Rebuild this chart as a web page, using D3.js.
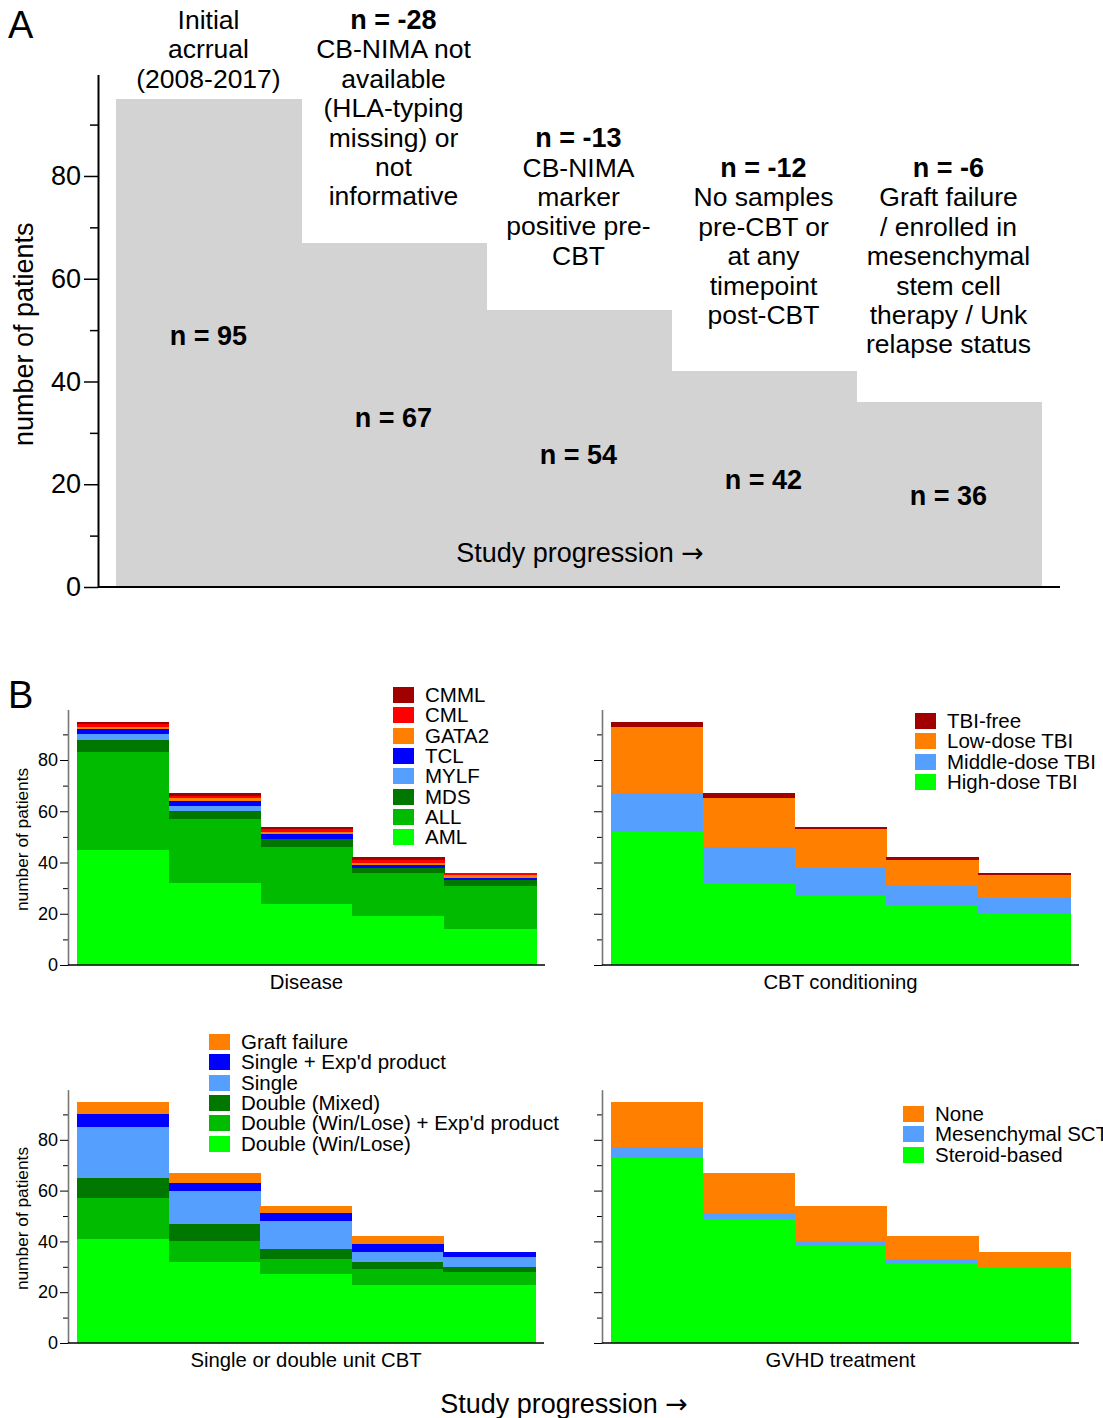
<!DOCTYPE html>
<html>
<head>
<meta charset="utf-8">
<script src="https://cdn.jsdelivr.net/npm/d3@7"></script>
<style>
  body { margin: 0; background: #fff; }
  text { font-family: "Liberation Sans", Arial, sans-serif; fill: #000; }
  rect { shape-rendering: crispEdges; }
  .arrow { font-family: "DejaVu Sans", sans-serif; }
</style>
</head>
<body>
<svg id="canvas" width="1103" height="1418"></svg>
<script>
// ---- data ----
var stages = ['s1', 's2', 's3', 's4', 's5'];

// panel A
var stageCounts = [95, 67, 54, 42, 36];
var stageDrops = [null, -28, -13, -12, -6];
var stageNotes = [
  ['Initial', 'acrrual', '(2008-2017)'],
  ['CB-NIMA not', 'available', '(HLA-typing', 'missing) or', 'not', 'informative'],
  ['CB-NIMA', 'marker', 'positive pre-', 'CBT'],
  ['No samples', 'pre-CBT or', 'at any', 'timepoint', 'post-CBT'],
  ['Graft failure', '/ enrolled in', 'mesenchymal', 'stem cell', 'therapy / Unk', 'relapse status']
];
var noteTop = [110.4, 110.4, 87.4, 81.6, 81.6];     // first note line, in patients
var countLabelAt = [49, 33, 25.7, 21, 17.8];        // "n = .." label, in patients

// panel B: disease
var diseaseKeys = ['AML', 'ALL', 'MDS', 'MYLF', 'TCL', 'GATA2', 'CML', 'CMML'];
var aml   = [45, 32, 24, 19, 14];
var all   = [38, 25, 22, 17, 17];
var mds   = [5, 3, 3, 2, 2];
var mylf  = [2, 2, 0, 0, 0];
var tcl   = [2, 2, 2, 1, 1];
var gata2 = [1, 1, 1, 1, 1];
var cml   = [1, 1, 1, 1, 1];
var cmml  = [1, 1, 1, 1, 0];
var diseaseColors = ['#00ff00', '#00bb00', '#007800', '#55a0ff', '#0000ff', '#ff8000', '#ff0000', '#a00000'];

// panel B: CBT conditioning
var condKeys = ['High-dose TBI', 'Middle-dose TBI', 'Low-dose TBI', 'TBI-free'];
var highTbi = [52, 32, 27, 23, 20];
var midTbi  = [15, 14, 11, 8, 6];
var lowTbi  = [26, 19, 15, 10, 9];
var freeTbi = [2, 2, 1, 1, 1];
var condColors = ['#00ff00', '#55a0ff', '#ff8000', '#a00000'];

// panel B: single or double unit
var unitKeys = ['Double (Win/Lose)', 'Double (Win/Lose) + Exp\'d product', 'Double (Mixed)', 'Single', 'Single + Exp\'d product', 'Graft failure'];
var dblWin    = [41, 32, 27, 23, 23];
var dblWinExp = [16, 8, 6, 6, 5];
var dblMixed  = [8, 7, 4, 3, 2];
var single    = [20, 13, 11, 4, 4];
var singleExp = [5, 3, 3, 3, 2];
var graftFail = [5, 4, 3, 3, 0];
var unitColors = ['#00ff00', '#00bb00', '#007800', '#55a0ff', '#0000ff', '#ff8000'];

// panel B: GVHD treatment
var gvhdKeys = ['Steroid-based', 'Mesenchymal SCT', 'None'];
var steroid = [73, 49, 38, 31, 30];
var mscT    = [4, 2, 2, 2, 0];
var noneT   = [18, 16, 14, 9, 6];
var gvhdColors = ['#00ff00', '#55a0ff', '#ff8000'];

var yTicks = [0, 20, 40, 60, 80];
var yMinor = [10, 30, 50, 70, 90];
var yMax = 99.75;

var svg = d3.select('#canvas');

function progressLabel(sel) {
  sel.append('tspan').text('Study progression ');
  sel.append('tspan').attr('class', 'arrow').text('\u2192');
}

// ---- panel A ----
(function () {
  var x = d3.scaleBand().domain(stages).range([116, 1041]).padding(0);
  var y = d3.scaleLinear().domain([0, yMax]).range([587, 74.5]);
  var g = svg.append('g');

  g.selectAll('rect.stage')
    .data(stageCounts)
    .enter().append('rect')
    .attr('class', 'stage')
    .attr('x', function (d, i) { return x(stages[i]); })
    .attr('width', x.bandwidth() + 0.5)
    .attr('y', function (d) { return y(d); })
    .attr('height', function (d) { return y(0) - y(d); })
    .attr('fill', '#d3d3d3');

  g.append('g')
    .attr('transform', 'translate(98,0)')
    .call(d3.axisLeft(y).tickValues(yMinor).tickSize(8).tickFormat(''))
    .call(function (a) { a.select('.domain').remove(); a.selectAll('line').attr('stroke-width', 1.5); });
  g.append('g')
    .attr('transform', 'translate(98,0)')
    .call(d3.axisLeft(y).tickValues(yTicks).tickSizeInner(14).tickSizeOuter(0).tickPadding(3))
    .call(function (a) {
      a.select('.domain').attr('stroke-width', 2);
      a.selectAll('line').attr('stroke-width', 1.5);
      a.selectAll('text').style('font-size', '27px').attr('font-family', null);
    });
  g.append('line')
    .attr('x1', 98).attr('x2', 1060)
    .attr('y1', y(0)).attr('y2', y(0))
    .attr('stroke', '#000').attr('stroke-width', 2);

  g.append('text')
    .attr('transform', 'translate(33,' + y(49.2) + ') rotate(-90)')
    .attr('text-anchor', 'middle')
    .style('font-size', '27px')
    .text('number of patients');

  // n labels
  g.selectAll('text.count')
    .data(stageCounts)
    .enter().append('text')
    .attr('class', 'count')
    .attr('x', function (d, i) { return x(stages[i]) + x.bandwidth() / 2; })
    .attr('y', function (d, i) { return y(countLabelAt[i]); })
    .attr('dy', '0.35em')
    .attr('text-anchor', 'middle')
    .style('font-size', '27px')
    .style('font-weight', 'bold')
    .text(function (d) { return 'n = ' + d; });

  // notes above bars
  stageNotes.forEach(function (lines, i) {
    var cx = x(stages[i]) + x.bandwidth() / 2;
    var all = stageDrops[i] === null ? lines : ['n = ' + stageDrops[i]].concat(lines);
    var t = g.append('text')
      .attr('text-anchor', 'middle')
      .style('font-size', '26.5px');
    all.forEach(function (s, k) {
      t.append('tspan')
        .attr('x', cx)
        .attr('y', y(noteTop[i]) + k * 29.4)
        .attr('dy', '0.35em')
        .style('font-weight', (stageDrops[i] !== null && k === 0) ? 'bold' : null)
        .style('font-size', (stageDrops[i] !== null && k === 0) ? '27px' : null)
        .text(s);
    });
  });

  g.append('text')
    .attr('x', 580).attr('y', 553).attr('dy', '0.35em')
    .attr('text-anchor', 'middle')
    .style('font-size', '27px')
    .call(progressLabel);

  svg.append('text').attr('x', 8).attr('y', 38).style('font-size', '38px').text('A');
})();

// ---- panel B ----
svg.append('text').attr('x', 8).attr('y', 708).style('font-size', '38px').text('B');

function drawStack(cfg) {
  var x = d3.scaleBand().domain(stages).range([cfg.left, cfg.right]).padding(0);
  var y = d3.scaleLinear().domain([0, yMax]).range([cfg.base, cfg.base - yMax * cfg.k]);
  var rows = stages.map(function (s, i) {
    var r = { stage: s };
    cfg.keys.forEach(function (key, j) { r[key] = cfg.series[j][i]; });
    return r;
  });
  var stacked = d3.stack().keys(cfg.keys)(rows);
  var g = svg.append('g');

  g.selectAll('g.layer')
    .data(stacked)
    .enter().append('g')
    .attr('class', 'layer')
    .attr('fill', function (d, j) { return cfg.colors[j]; })
    .selectAll('rect')
    .data(function (d) { return d; })
    .enter().append('rect')
    .attr('x', function (d) { return x(d.data.stage); })
    .attr('width', x.bandwidth() + 0.5)
    .attr('y', function (d) { return y(d[1]); })
    .attr('height', function (d) { return y(d[0]) - y(d[1]); });

  var ax = cfg.left - 9;
  g.append('g')
    .attr('transform', 'translate(' + ax + ',0)')
    .call(d3.axisLeft(y).tickValues(yMinor).tickSize(5).tickFormat(''))
    .call(function (a) { a.select('.domain').remove(); });
  g.append('g')
    .attr('transform', 'translate(' + ax + ',0)')
    .call(d3.axisLeft(y).tickValues(yTicks).tickSizeInner(8).tickSizeOuter(0).tickPadding(2)
      .tickFormat(cfg.labels ? d3.format('d') : ''))
    .call(function (a) {
      a.select('.domain').attr('stroke', '#777').attr('stroke-width', 1.6);
      a.selectAll('text').style('font-size', '18px').attr('font-family', null);
    });
  g.append('line')
    .attr('x1', ax).attr('x2', cfg.right + 9)
    .attr('y1', y(0)).attr('y2', y(0))
    .attr('stroke', '#000').attr('stroke-width', 1.5);

  g.append('text')
    .attr('x', (cfg.left + cfg.right) / 2).attr('y', cfg.base + 17).attr('dy', '0.35em')
    .attr('text-anchor', 'middle')
    .style('font-size', '20.3px')
    .text(cfg.title);

  if (cfg.labels) {
    g.append('text')
      .attr('transform', 'translate(28,' + y(49) + ') rotate(-90)')
      .attr('text-anchor', 'middle')
      .style('font-size', '17.3px')
      .text('number of patients');
  }

  // legend, top of stack first
  var items = cfg.keys.map(function (k, j) { return { key: k, color: cfg.colors[j] }; }).reverse();
  var lg = g.append('g').attr('transform', 'translate(' + cfg.legend[0] + ',' + cfg.legend[1] + ')');
  var item = lg.selectAll('g').data(items).enter().append('g')
    .attr('transform', function (d, i) { return 'translate(0,' + (i * 20.3) + ')'; });
  item.append('rect').attr('x', 0).attr('y', -8).attr('width', 21).attr('height', 16)
    .attr('fill', function (d) { return d.color; });
  item.append('text').attr('x', 32).attr('y', 0).attr('dy', '0.35em')
    .style('font-size', '20.5px')
    .text(function (d) { return d.key; });
}

drawStack({ keys: diseaseKeys, series: [aml, all, mds, mylf, tcl, gata2, cml, cmml], colors: diseaseColors,
  left: 77, right: 536, base: 965, k: 2.5625, labels: true, title: 'Disease', legend: [393, 695] });
drawStack({ keys: condKeys, series: [highTbi, midTbi, lowTbi, freeTbi], colors: condColors,
  left: 611, right: 1070, base: 965, k: 2.5625, labels: false, title: 'CBT conditioning', legend: [915, 721] });
drawStack({ keys: unitKeys, series: [dblWin, dblWinExp, dblMixed, single, singleExp, graftFail], colors: unitColors,
  left: 77, right: 535, base: 1343, k: 2.54, labels: true, title: 'Single or double unit CBT', legend: [209, 1042] });
drawStack({ keys: gvhdKeys, series: [steroid, mscT, noneT], colors: gvhdColors,
  left: 611, right: 1070, base: 1343, k: 2.54, labels: false, title: 'GVHD treatment', legend: [903, 1114] });

svg.append('text')
  .attr('x', 564).attr('y', 1404).attr('dy', '0.35em')
  .attr('text-anchor', 'middle')
  .style('font-size', '27px')
  .call(progressLabel);
</script>
</body>
</html>
